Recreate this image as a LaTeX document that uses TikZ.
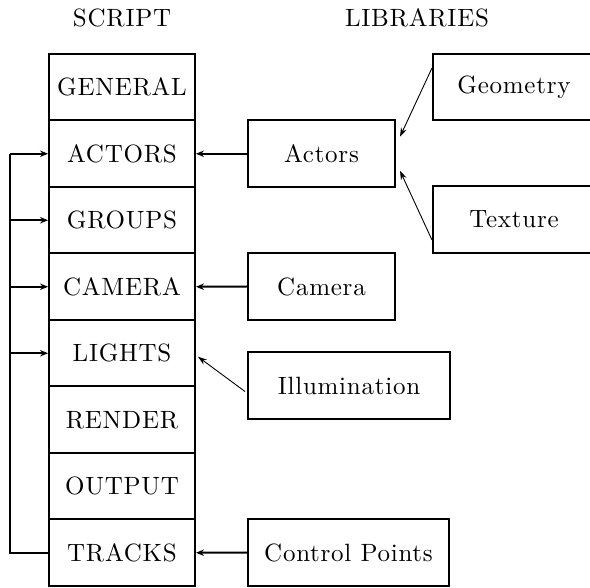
\documentclass[tikz,border=0pt]{standalone}
\usepackage{fontspec}
\newfontfamily\cmten[LetterSpace=3]{lmroman10-regular.otf}
\usetikzlibrary{arrows.meta,calc}
\begin{document}
\begin{tikzpicture}[x=1pt,y=-1pt,
  every node/.style={font=\cmten\fontsize{25}{30}\selectfont},
  scriptbox/.style={draw,line width=2pt,minimum width=146pt,minimum height=66.5pt,inner sep=0pt},
  libbox/.style={draw,line width=2pt,minimum height=67pt,inner sep=0pt},
  title/.style={inner sep=0pt},
  bigarrow/.style={line width=2pt,-{Stealth[length=8pt,width=6.5pt]}},
  thinarrow/.style={line width=0.9pt,-{Stealth[length=9pt,width=6pt]}}]
\clip (0,0) rectangle (590,588);
\useasboundingbox (0,0) rectangle (590,588);
% titles
\node[title] (tscript) at (122,18) {SCRIPT};
\node[title] (tlib) at (417,18) {LIBRARIES};
% script column
\node[scriptbox] (general) at (122,87.25) {GENERAL};
\node[scriptbox] (actors)  at (122,153.75) {ACTORS};
\node[scriptbox] (groups)  at (122,220.25) {GROUPS};
\node[scriptbox] (camera)  at (122,286.75) {CAMERA};
\node[scriptbox] (lights)  at (122,353.25) {LIGHTS};
\node[scriptbox] (render)  at (122,419.75) {RENDER};
\node[scriptbox] (output)  at (122,486.25) {OUTPUT};
\node[scriptbox] (tracks)  at (122,552.75) {TRACKS};
% libraries
\node[libbox,minimum width=147pt] (lactors) at (321.5,153.75) {Actors};
\node[libbox,minimum width=147pt] (lcamera) at (321.5,286.5) {Camera};
\node[libbox,minimum width=202pt] (lillum) at (349,385.5) {Illumination};
\node[libbox,minimum width=201pt] (lcontrol) at (348.5,552.5) {Control Points};
\node[libbox,minimum width=162pt,minimum height=66.5pt] (lgeom) at (514,87) {Geometry};
\node[libbox,minimum width=162pt,minimum height=66.5pt] (ltex) at (514,219.5) {Texture};
% horizontal arrows
\draw[bigarrow] (lactors.west) -- (actors.east);
\draw[bigarrow] (lcamera.west) -- (camera.east);
\draw[bigarrow] (lcontrol.west) -- (tracks.east);
% thin arrows
\draw[thinarrow] ($(lgeom.west)+(0,-19)$) -- ($(lactors.east)+(4,-17)$);
\draw[thinarrow] ($(ltex.west)+(0,20.5)$) -- ($(lactors.east)+(4,17)$);
\draw[thinarrow] ($(lillum.west)+(-2,6)$) -- ($(lights.east)+(2,3.5)$);
% feedback bracket
\coordinate (corner) at (10,552.75);
\draw[line width=2pt] (tracks.west) -- (corner) -- (corner |- actors.west);
\draw[bigarrow] (corner |- actors.west) -- (actors.west);
\draw[bigarrow] (corner |- groups.west) -- (groups.west);
\draw[bigarrow] (corner |- camera.west) -- (camera.west);
\draw[bigarrow] (corner |- lights.west) -- (lights.west);
\end{tikzpicture}
\end{document}
